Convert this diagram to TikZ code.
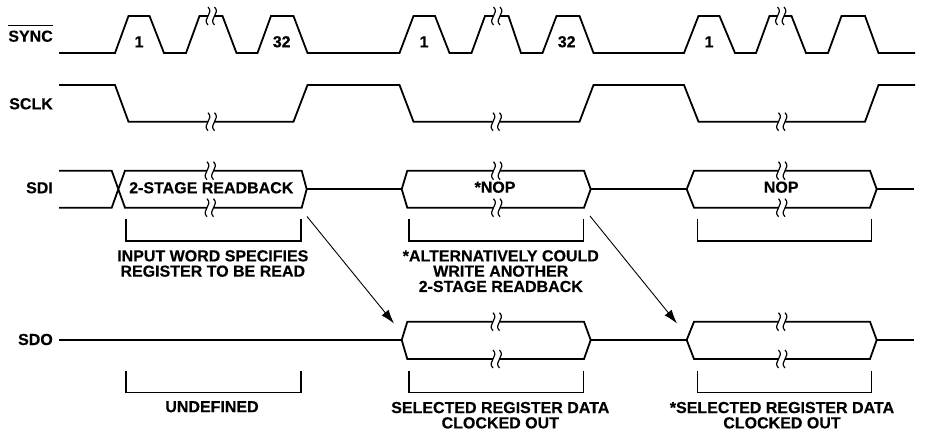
\documentclass[tikz,border=0pt]{standalone}
\usepackage{fontspec}
\setmainfont{Liberation Sans}
\newfontfamily\lblfont{Liberation Sans}[BoldFeatures={FakeBold=0.35}]
\usetikzlibrary{arrows.meta}
\newcommand\wbrk[2]{%
  \fill[white] ({#1-3.5},{#2-1.6}) rectangle ({#1+3.5},{#2+1.6});
  \draw[line width=1.2pt] ({#1-3},{#2+9}) .. controls ({#1-9.5},{#2+2.5}) and ({#1+3.5},{#2-2.5}) .. ({#1-3},{#2-9});
  \draw[line width=1.2pt] ({#1+3.5},{#2+9}) .. controls ({#1-3},{#2+2.5}) and ({#1+10},{#2-2.5}) .. ({#1+3.5},{#2-9});
}
\begin{document}
\begin{tikzpicture}[x=1pt,y=-1pt,
  sig/.style={line width=1.8pt, line join=miter},
  brkt/.style={line width=1.3pt},
  lbl/.style={font=\lblfont\fontsize{16}{15.3}\selectfont\bfseries, inner sep=0pt, align=center},
  arr/.style={line width=0.9pt, -{Latex[length=14pt,width=9pt]}},
]
\useasboundingbox (0,0) rectangle (932,432);

% ---------- SYNC ----------
\draw[sig] (59,53) -- (115,53) -- (128.5,16) -- (149.5,16) -- (164,53) -- (186,53) -- (199.5,16) -- (222.5,16) -- (236.5,53) -- (257.5,53) -- (271,16) -- (293.5,16) -- (307.5,53)
  -- (399.5,53) -- (413.5,16) -- (435,16) -- (449.5,53) -- (471.5,53) -- (485,16) -- (508.5,16) -- (521,53) -- (542.5,53) -- (556.5,16) -- (579.5,16) -- (593.5,53)
  -- (684,53) -- (698.5,16) -- (719.5,16) -- (735,53) -- (756,53) -- (769.5,16) -- (791.5,16) -- (806,53) -- (828,53) -- (841.5,16) -- (865,16) -- (878.5,53) -- (915,53);

% ---------- SCLK ----------
\draw[sig] (59,85) -- (115,85) -- (128.5,121.7) -- (293.5,121.7) -- (307.5,85) -- (399.5,85) -- (413.5,121.7) -- (579.5,121.7) -- (593.5,85) -- (684,85) -- (698.5,121.7) -- (865,121.7) -- (878.5,85) -- (915,85);

% ---------- SDI ----------
\draw[sig] (59,170.7) -- (111.7,170.7) -- (125,207.7) -- (301.7,207.7) -- (306.7,189.2) -- (301.7,170.7) -- (125,170.7) -- (111.7,207.7) -- (59,207.7);
\draw[sig] (306.7,189.2) -- (401.7,189.2);
\draw[sig] (401.7,189.2) -- (407.3,170.7) -- (584,170.7) -- (590.7,189.2) -- (584,207.7) -- (407.3,207.7) -- cycle;
\draw[sig] (590.7,189.2) -- (686.7,189.2);
\draw[sig] (686.7,189.2) -- (694,170.7) -- (870,170.7) -- (876.7,189.2) -- (870,207.7) -- (694,207.7) -- cycle;
\draw[sig] (876.7,189.2) -- (914,189.2);

% ---------- SDO ----------
\draw[sig] (59,340) -- (401.7,340);
\draw[sig] (401.7,340) -- (407.3,321.7) -- (584,321.7) -- (590.7,340) -- (584,359) -- (407.3,359) -- cycle;
\draw[sig] (590.7,340) -- (686.7,340);
\draw[sig] (686.7,340) -- (694,321.7) -- (870,321.7) -- (876.7,340) -- (870,359) -- (694,359) -- cycle;
\draw[sig] (876.7,340) -- (914,340);

% ---------- breaks ----------
\wbrk{211}{16}\wbrk{496.5}{16}\wbrk{780.5}{16}
\wbrk{211}{121.7}\wbrk{496}{121.7}\wbrk{781.5}{121.7}
\wbrk{210}{170.7}\wbrk{210}{207.7}
\wbrk{496.5}{170.7}\wbrk{496.5}{207.7}
\wbrk{781.5}{170.7}\wbrk{781.5}{207.7}
\wbrk{496}{321.7}\wbrk{496}{359}
\wbrk{781.5}{321.7}\wbrk{781.5}{359}

% ---------- signal labels ----------
\node[lbl, anchor=base east] (lsync) at (53,41.7) {SYNC};
\coordinate (olv) at (0,25.5);
\draw[line width=1.2pt] (lsync.west |- olv) -- (lsync.east |- olv);
\node[lbl, anchor=base east] (lsclk) at (53,109.3) {SCLK};
\node[lbl, anchor=base east] (lsdi) at (53,193.3) {SDI};
\node[lbl, anchor=base east] (lsdo) at (53,345) {SDO};

% ---------- pulse numbers ----------
\node[lbl, anchor=base] (p1a) at (139,47.3) {1};
\node[lbl, anchor=base] (p32a) at (281.7,47.3) {32};
\node[lbl, anchor=base] (p1b) at (424,47.3) {1};
\node[lbl, anchor=base] (p32b) at (566.7,47.3) {32};
\node[lbl, anchor=base] (p1c) at (709,47.3) {1};

% ---------- box texts ----------
\node[lbl, anchor=base] (t1) at (211.3,193.3) {2-STAGE READBACK};
\node[lbl, anchor=base] (t2) at (495,192.7) {*NOP};
\node[lbl, anchor=base] (t3) at (781.2,192.7) {NOP};

% ---------- brackets ----------
\draw[brkt] (126,219.3) -- (126,241) -- (301,241) -- (301,219.3);
\draw[brkt] (409,219.3) -- (409,241) -- (583.3,241) -- (583.3,219.3);
\draw[brkt] (697.3,219.3) -- (697.3,241) -- (871.7,241) -- (871.7,219.3);
\draw[brkt] (126,371) -- (126,392.7) -- (301,392.7) -- (301,371);
\draw[brkt] (409,371) -- (409,392.7) -- (583.3,392.7) -- (583.3,371);
\draw[brkt] (697.3,371) -- (697.3,392.7) -- (871.7,392.7) -- (871.7,371);

% ---------- captions ----------
\node[lbl, anchor=north] (c1) at (212.8,250) {INPUT WORD SPECIFIES\\REGISTER TO BE READ};
\node[lbl, anchor=north] (c2) at (500.8,250) {*ALTERNATIVELY COULD\\WRITE ANOTHER\\2-STAGE READBACK};
\node[lbl, anchor=north] (c3) at (212,401) {UNDEFINED};
\node[lbl, anchor=north] (c4) at (500.3,401.7) {SELECTED REGISTER DATA\\CLOCKED OUT};
\node[lbl, anchor=north] (c5) at (782,401.7) {*SELECTED REGISTER DATA\\CLOCKED OUT};

% ---------- arrows ----------
\coordinate (a1s) at (307,216.5);
\coordinate (a1e) at (394,323.5);
\coordinate (a2s) at (590,216);
\coordinate (a2e) at (677,323.5);
\draw[arr] (a1s) -- (a1e);
\draw[arr] (a2s) -- (a2e);
\end{tikzpicture}
\end{document}
